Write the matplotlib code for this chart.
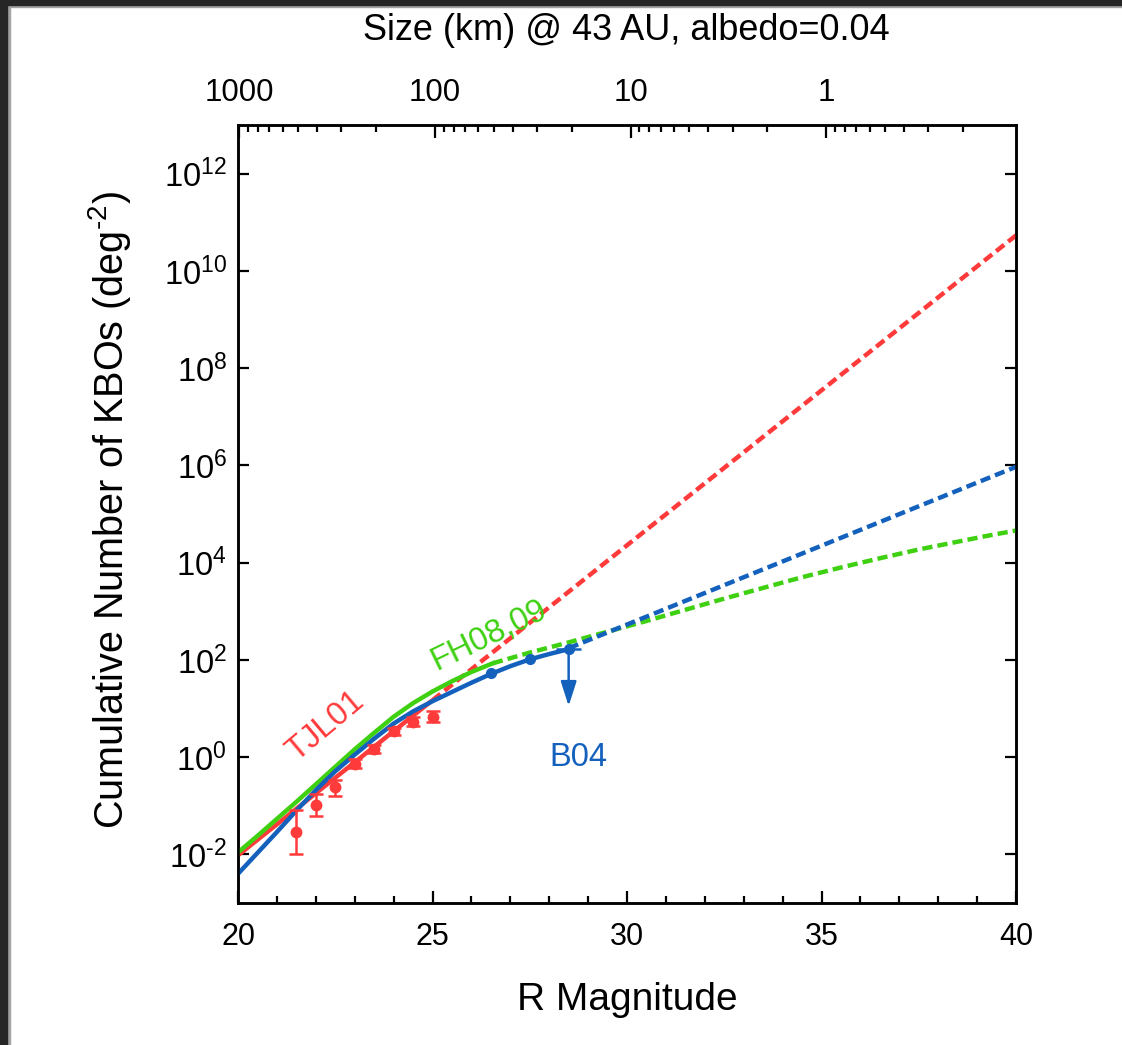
import numpy as np
import matplotlib
matplotlib.use('Agg')
import matplotlib.pyplot as plt
from matplotlib.patches import Rectangle
from matplotlib.ticker import (FixedLocator, MultipleLocator, NullLocator,
                               LogLocator, FuncFormatter, NullFormatter)

plt.rcParams['font.family'] = ['Liberation Sans', 'DejaVu Sans']
plt.rcParams['mathtext.fontset'] = 'custom'
plt.rcParams['mathtext.rm'] = 'Liberation Sans'
plt.rcParams['mathtext.it'] = 'Liberation Sans:italic'
plt.rcParams['mathtext.bf'] = 'Liberation Sans:bold'
plt.rcParams['axes.unicode_minus'] = False

HY = '\u2010'   # plain hyphen (mathtext turns '-' into a long minus)

# ---------------- data (log10 of cumulative number per deg^2) ----------------
# TJL01 single power law
tjl_solid_m = [20.0, 25.0]
tjl_solid_logN = [-2.02, 1.17]
tjl_dash_m = [25.0, 40.0]
tjl_dash_logN = [1.17, 10.73]

# TJL01 survey points with error bars
tjl_pts_m = [21.5, 22.0, 22.5, 23.0, 23.5, 24.0, 24.5, 25.0]
tjl_pts_logN = [-1.53, -0.99, -0.62, -0.14, 0.17, 0.53, 0.73, 0.82]
tjl_pts_loghi = [-1.08, -0.75, -0.48, -0.04, 0.25, 0.60, 0.82, 0.94]
tjl_pts_loglo = [-1.99, -1.22, -0.79, -0.22, 0.09, 0.46, 0.64, 0.73]

# FH08,09 model
fh_solid_m = [20.0, 20.5, 21.0, 21.5, 22.0, 22.5, 23.0, 23.5, 24.0, 24.5, 25.0, 25.5, 26.0, 26.55]
fh_solid_logN = [-1.96, -1.62, -1.27, -0.92, -0.56, -0.20, 0.16, 0.50, 0.83, 1.11, 1.35, 1.56, 1.75, 1.93]
fh_dash_m = [26.55, 27.5, 28.5, 29.5, 30.5, 31.5, 32.5, 33.5, 34.5, 35.5, 36.5, 37.5, 38.5, 39.25, 40.0]
fh_dash_logN = [1.93, 2.15, 2.36, 2.58, 2.80, 3.03, 3.26, 3.48, 3.70, 3.90, 4.09, 4.27, 4.43, 4.55, 4.66]

# B04 model
b04_solid_m = [20.0, 20.5, 21.0, 21.5, 22.0, 22.5, 23.0, 23.5, 24.0, 24.5,
               25.0, 25.5, 26.0, 26.5, 27.0, 27.5, 28.0, 28.5]
b04_solid_logN = [-2.40, -1.97, -1.54, -1.10, -0.68, -0.29, 0.05, 0.38, 0.69, 0.94,
                  1.15, 1.34, 1.53, 1.71, 1.87, 2.01, 2.12, 2.22]
b04_dash_m = [28.5, 40.0]
b04_dash_logN = [2.24, 5.97]

# B04 survey points
b04_pts_m = [26.5, 27.5]
b04_pts_logN = [1.73, 2.01]
b04_lim_m = 28.5
b04_lim_logN = 2.22
b04_lim_arrow_to = 1.05
b04_lim_halfwidth = 0.33

# top axis: size (km) for R magnitude at 43 AU, albedo 0.04
size_ref_mag = 20.03      # magnitude of a 1000 km body
mag_per_decade = 5.03

labels = [("TJL01", 22.24, 0.63, 40), ("FH08,09", 26.44, 2.51, 26), ("B04", 28.74, 0.0, 0)]

# ---------------- style ----------------
RED = '#ff3a3a'
GREEN = '#3fd012'
BLUE = '#1461bd'
LW = 3.2
DASH = (2.3, 1.15)

W, H = 1122, 1045
fig = plt.figure(figsize=(W / 100, H / 100), dpi=100)
fig.patch.set_facecolor('white')

# dark screen-frame at left and top
fig.patches.append(Rectangle((0, 0), 10 / W, 1, transform=fig.transFigure, color='#a3a3a3', zorder=0))
fig.patches.append(Rectangle((0, 1 - 7 / H), 1, 7 / H, transform=fig.transFigure, color='#a3a3a3', zorder=0))
fig.patches.append(Rectangle((0, 0), 7 / W, 1, transform=fig.transFigure, color='#262626', zorder=1))
fig.patches.append(Rectangle((0, 1 - 5 / H), 1, 5 / H, transform=fig.transFigure, color='#262626', zorder=1))

L, R_, T, B = 238, 1016, 125, 903
ax = fig.add_axes([L / W, 1 - B / H, (R_ - L) / W, (B - T) / H])

def p(v):
    return 10 ** np.asarray(v, dtype=float)

# model lines
ax.plot(tjl_solid_m, p(tjl_solid_logN), color=RED, lw=LW, solid_capstyle='butt', zorder=3)
ax.plot(tjl_dash_m, p(tjl_dash_logN), color=RED, lw=LW, dashes=DASH, zorder=3)
ax.plot(fh_solid_m, p(fh_solid_logN), color=GREEN, lw=LW, zorder=4)
ax.plot(fh_dash_m, p(fh_dash_logN), color=GREEN, lw=LW, dashes=DASH, zorder=4)
ax.plot(b04_solid_m, p(b04_solid_logN), color=BLUE, lw=LW, zorder=5)
ax.plot(b04_dash_m, p(b04_dash_logN), color=BLUE, lw=LW, dashes=DASH, zorder=5)

# TJL01 points
y = p(tjl_pts_logN)
yerr = [y - p(tjl_pts_loglo), p(tjl_pts_loghi) - y]
ax.errorbar(tjl_pts_m, y, yerr=yerr, fmt='o', color=RED, ms=7.5, elinewidth=1.8,
            capsize=5, capthick=1.8, zorder=6)

# B04 points
ax.plot(b04_pts_m, p(b04_pts_logN), 'o', color=BLUE, ms=7, zorder=6)
ax.errorbar([b04_lim_m], p([b04_lim_logN]), xerr=[b04_lim_halfwidth], fmt='o', color=BLUE,
            ms=7, elinewidth=1.8, capsize=0, zorder=6)
ax.annotate('', xy=(b04_lim_m, 10 ** b04_lim_arrow_to), xytext=(b04_lim_m, 10 ** b04_lim_logN),
            arrowprops=dict(arrowstyle='-|>,head_length=1.0,head_width=0.32', color=BLUE,
                            lw=1.8, mutation_scale=15, shrinkA=0, shrinkB=0), zorder=6)

# annotations
cols = {"TJL01": RED, "FH08,09": GREEN, "B04": BLUE}
for txt, xm, ly, rot in labels:
    ax.text(xm, 10 ** ly, txt, color=cols[txt], fontsize=23.5, rotation=rot,
            ha='center', va='center', rotation_mode='anchor', zorder=7)

ax.set_yscale('log')
ax.set_xlim(20, 40)
ax.set_ylim(1e-3, 1e13)

def ylab(v, pos):
    k = int(round(np.log10(v)))
    s = (HY + str(-k)) if k < 0 else str(k)
    return r'$\mathregular{10^{%s}}$' % s

ax.xaxis.set_major_locator(MultipleLocator(5))
ax.xaxis.set_minor_locator(MultipleLocator(1))
ax.yaxis.set_major_locator(FixedLocator([10.0 ** k for k in range(-2, 13, 2)]))
ax.yaxis.set_minor_locator(NullLocator())
ax.yaxis.set_major_formatter(FuncFormatter(ylab))

ax.tick_params(axis='x', which='both', direction='in', top=False, bottom=True, width=1.6, labelsize=22)
ax.tick_params(axis='x', which='major', length=9, pad=14)
ax.tick_params(axis='x', which='minor', length=5)
ax.tick_params(axis='y', which='major', direction='in', left=True, right=True, length=8, width=1.6,
               labelsize=23.5, pad=8)
for s in ax.spines.values():
    s.set_linewidth(1.8)

ax.set_xlabel('R Magnitude', fontsize=28, va='center')
ax.xaxis.set_label_coords(0.501, -0.125)
ax.set_ylabel(r'Cumulative Number of KBOs (deg$^{\mathregular{%s2}}$)' % HY, fontsize=28.5, va='center')
ax.yaxis.set_label_coords(-0.165, 0.505)

# top size axis
def mag2size(m):
    return 10 ** (3 - (np.asarray(m, dtype=float) - size_ref_mag) / mag_per_decade)

ax2 = ax.twiny()
ax2.set_xscale('log')
ax2.set_xlim(mag2size(20), mag2size(40))
ax2.xaxis.set_major_locator(LogLocator(base=10, numticks=20))
ax2.xaxis.set_minor_locator(LogLocator(base=10, subs=np.arange(2, 10), numticks=20))
ax2.xaxis.set_major_formatter(FuncFormatter(lambda v, pos: '%g' % v))
ax2.xaxis.set_minor_formatter(NullFormatter())
ax2.tick_params(axis='x', which='both', direction='in', width=1.6, labelsize=22.5)
ax2.tick_params(axis='x', which='major', length=9, pad=12)
ax2.tick_params(axis='x', which='minor', length=5)
ax2.set_xlabel('Size (km) @ 43 AU, albedo=0.04', fontsize=26, va='center')
ax2.xaxis.set_label_coords(0.499, 1.122)
for s in ax2.spines.values():
    s.set_linewidth(1.8)

fig.savefig('out.png', dpi=100, facecolor='white')
